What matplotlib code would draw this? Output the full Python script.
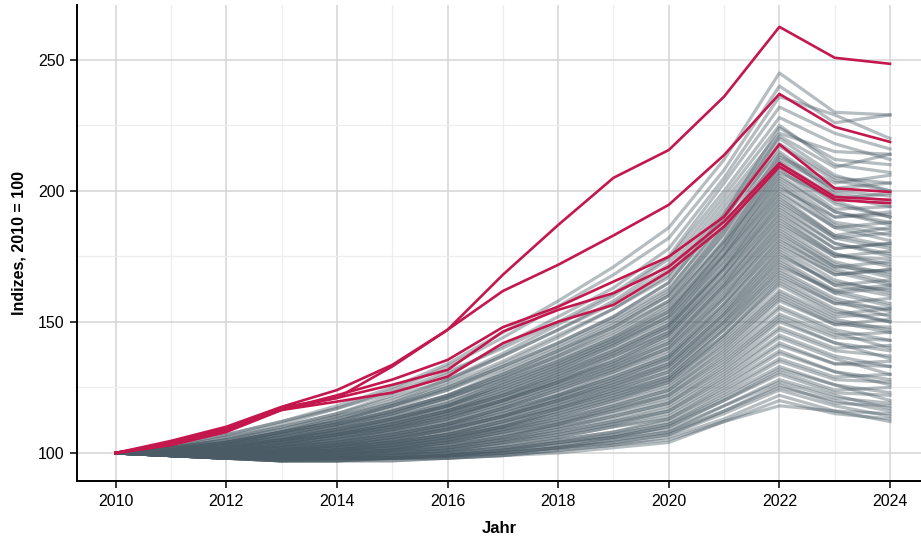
import numpy as np
import matplotlib.pyplot as plt
from matplotlib.ticker import MultipleLocator

plt.rcParams['font.family'] = ['Liberation Sans', 'DejaVu Sans']

years = list(range(2010, 2025))

# grey background series (index, 2010 = 100)
grey_series = [
    [100, 103, 107, 112, 118, 125, 134, 146, 158, 171, 186, 212, 245, 230, 229],
    [100, 102, 106, 111, 117, 124, 133, 144, 156, 168, 182, 208, 240, 226, 229],
    [100, 102, 105, 110, 115, 122, 130, 141, 152, 163, 178, 205, 236, 229, 220],
    [100, 103, 107, 112, 117, 123, 131, 140, 150, 161, 175, 203, 232, 222, 216],
    [100, 102, 105, 109, 114, 120, 128, 138, 149, 160, 174, 200, 228, 218, 212],
    [100, 101, 104, 108, 113, 119, 127, 137, 147, 158, 172, 198, 225, 210, 207],
    [100, 102, 106, 110, 115, 121, 128, 137, 147, 157, 170, 196, 222, 215, 214],
    [100, 101, 104, 108, 112, 118, 125, 134, 144, 155, 168, 194, 220, 206, 200],
    [100, 102, 105, 109, 114, 119, 126, 135, 145, 155, 167, 192, 218, 205, 203],
    [100, 101, 104, 108, 112, 117, 124, 133, 142, 152, 165, 190, 215, 200, 198],
    [100, 102, 104, 108, 112, 118, 124, 132, 141, 151, 163, 187, 213, 203, 206],
    [100, 101, 103, 107, 111, 116, 122, 130, 139, 149, 161, 185, 211, 198, 194],
    [100, 101, 104, 107, 111, 116, 122, 130, 139, 148, 160, 183, 209, 195, 190],
    [100, 101, 103, 106, 110, 115, 121, 129, 137, 147, 158, 181, 207, 197, 199],
    [100, 101, 103, 106, 110, 114, 120, 128, 136, 145, 157, 180, 205, 192, 188],
    [100, 100, 102, 105, 109, 114, 119, 127, 135, 144, 155, 178, 203, 188, 185],
    [100, 101, 103, 106, 109, 113, 118, 126, 134, 143, 154, 176, 201, 190, 192],
    [100, 100, 102, 105, 108, 113, 118, 125, 133, 142, 152, 175, 199, 186, 181],
    [100, 101, 102, 105, 108, 112, 117, 124, 132, 141, 151, 173, 197, 183, 186],
    [100, 100, 102, 104, 107, 111, 116, 123, 131, 139, 149, 171, 195, 182, 178],
    [100, 100, 101, 104, 107, 111, 116, 122, 130, 138, 148, 170, 193, 180, 176],
    [100, 100, 102, 104, 107, 110, 115, 121, 129, 137, 146, 168, 191, 178, 180],
    [100, 100, 101, 103, 106, 110, 114, 120, 128, 135, 145, 166, 189, 176, 171],
    [100, 100, 101, 103, 106, 109, 114, 120, 127, 134, 143, 164, 187, 175, 174],
    [100, 100, 101, 103, 105, 109, 113, 119, 126, 133, 142, 163, 185, 172, 167],
    [100, 100, 101, 102, 105, 108, 112, 118, 125, 132, 140, 161, 183, 171, 169],
    [100, 100, 100, 102, 104, 107, 111, 117, 124, 131, 139, 159, 181, 170, 165],
    [100, 100, 101, 102, 104, 107, 111, 116, 122, 129, 137, 157, 179, 168, 170],
    [100, 100, 100, 101, 103, 106, 110, 115, 121, 128, 136, 155, 177, 164, 160],
    [100, 100, 100, 101, 103, 106, 109, 114, 120, 127, 134, 153, 175, 165, 162],
    [100, 100, 100, 101, 103, 105, 109, 114, 120, 126, 133, 152, 173, 161, 156],
    [100, 100, 100, 101, 102, 105, 108, 113, 119, 125, 132, 150, 171, 162, 164],
    [100, 100, 100, 101, 102, 104, 107, 112, 118, 124, 131, 149, 169, 158, 152],
    [100, 100, 100, 100, 102, 104, 107, 111, 117, 123, 129, 147, 167, 157, 155],
    [100, 100, 100, 100, 101, 103, 106, 110, 116, 122, 128, 145, 165, 154, 150],
    [100, 100, 100, 100, 101, 103, 106, 110, 115, 121, 127, 143, 162, 152, 153],
    [100, 100, 99, 100, 101, 103, 105, 109, 114, 120, 126, 141, 160, 150, 146],
    [100, 100, 100, 100, 101, 102, 105, 109, 113, 118, 124, 139, 158, 149, 148],
    [100, 100, 99, 99, 100, 102, 104, 108, 112, 117, 122, 137, 155, 146, 140],
    [100, 100, 99, 99, 100, 101, 104, 107, 111, 116, 121, 135, 152, 144, 143],
    [100, 100, 99, 99, 100, 101, 103, 106, 110, 114, 119, 133, 150, 142, 136],
    [100, 99, 99, 99, 99, 101, 102, 105, 109, 113, 118, 131, 147, 139, 137],
    [100, 99, 99, 99, 99, 100, 102, 105, 108, 112, 116, 129, 144, 136, 130],
    [100, 99, 99, 98, 99, 100, 101, 104, 107, 111, 115, 127, 141, 134, 133],
    [100, 99, 98, 98, 99, 99, 101, 103, 106, 110, 113, 125, 138, 131, 126],
    [100, 99, 98, 98, 98, 99, 100, 102, 105, 108, 112, 123, 135, 128, 127],
    [100, 99, 99, 98, 98, 99, 100, 102, 104, 107, 111, 121, 132, 126, 120],
    [100, 99, 98, 98, 98, 98, 99, 101, 104, 106, 110, 120, 130, 123, 122],
    [100, 99, 98, 98, 98, 98, 99, 101, 103, 106, 109, 118, 128, 122, 117],
    [100, 99, 98, 97, 97, 98, 99, 100, 102, 105, 108, 116, 126, 119, 118],
    [100, 99, 98, 97, 97, 98, 98, 100, 102, 104, 107, 115, 124, 118, 114],
    [100, 99, 98, 97, 97, 97, 98, 99, 101, 103, 106, 113, 122, 116, 115],
    [100, 99, 98, 97, 97, 97, 98, 99, 101, 103, 105, 112, 120, 115, 113],
    [100, 99, 98, 98, 98, 98, 98, 99, 100, 102, 104, 112, 118, 116, 112],
    [100, 101, 104, 108, 113, 118, 125, 133, 142, 152, 165, 191, 224, 212, 210],
    [100, 101, 103, 107, 111, 116, 122, 131, 140, 150, 162, 189, 221, 209, 214],
    [100, 102, 104, 107, 111, 115, 121, 129, 138, 148, 160, 186, 217, 204, 200],
    [100, 101, 103, 106, 110, 115, 121, 128, 137, 146, 158, 184, 214, 199, 196],
    [100, 100, 102, 105, 109, 113, 119, 127, 135, 144, 156, 181, 212, 201, 203],
    [100, 101, 103, 105, 109, 113, 118, 126, 134, 143, 154, 179, 210, 196, 190],
    [100, 100, 102, 105, 108, 112, 118, 125, 133, 142, 153, 178, 208, 193, 194],
    [100, 101, 102, 105, 108, 112, 117, 124, 132, 141, 152, 176, 206, 192, 187],
    [100, 100, 102, 104, 107, 111, 116, 123, 131, 140, 150, 175, 204, 190, 191],
    [100, 100, 101, 104, 107, 111, 116, 122, 130, 139, 149, 173, 202, 187, 183],
    [100, 100, 102, 104, 107, 110, 115, 122, 129, 138, 148, 171, 200, 186, 188],
    [100, 100, 101, 103, 106, 110, 115, 121, 128, 137, 147, 170, 198, 183, 179],
    [100, 100, 101, 103, 106, 109, 114, 120, 127, 136, 146, 168, 196, 182, 184],
    [100, 100, 101, 103, 105, 109, 113, 120, 127, 135, 145, 167, 194, 180, 175],
    [100, 100, 101, 102, 105, 108, 113, 119, 126, 134, 144, 165, 192, 178, 180],
    [100, 100, 100, 102, 104, 108, 112, 118, 125, 133, 142, 164, 190, 176, 172],
    [100, 100, 101, 102, 104, 107, 111, 117, 124, 132, 141, 162, 188, 175, 177],
    [100, 100, 100, 102, 104, 107, 111, 117, 123, 131, 140, 160, 186, 173, 168],
    [100, 100, 100, 101, 103, 106, 110, 116, 122, 130, 138, 159, 184, 171, 173],
    [100, 100, 100, 101, 103, 106, 110, 115, 122, 129, 137, 157, 182, 169, 164],
    [100, 100, 100, 101, 103, 105, 109, 114, 121, 128, 136, 156, 180, 168, 170],
    [100, 100, 100, 101, 102, 105, 109, 114, 120, 127, 135, 154, 178, 166, 161],
    [100, 100, 100, 101, 102, 104, 108, 113, 119, 126, 134, 153, 176, 164, 166],
    [100, 100, 100, 100, 102, 104, 107, 112, 118, 125, 133, 151, 174, 162, 157],
    [100, 100, 99, 100, 101, 104, 107, 112, 117, 124, 131, 150, 172, 161, 163],
    [100, 100, 99, 100, 101, 103, 106, 111, 117, 123, 130, 148, 170, 159, 154],
    [100, 100, 99, 100, 101, 103, 106, 110, 116, 122, 129, 147, 168, 157, 159],
    [100, 100, 99, 99, 101, 102, 105, 110, 115, 121, 128, 145, 166, 155, 150],
    [100, 100, 99, 99, 100, 102, 105, 109, 114, 120, 127, 144, 164, 153, 155],
    [100, 99, 99, 99, 100, 102, 104, 108, 113, 119, 125, 142, 161, 151, 147],
    [100, 99, 99, 99, 100, 101, 104, 108, 112, 118, 124, 140, 159, 149, 151],
    [100, 99, 99, 99, 100, 101, 103, 107, 111, 117, 123, 138, 156, 147, 143],
    [100, 99, 99, 99, 99, 101, 103, 106, 111, 116, 122, 136, 153, 145, 146],
    [100, 99, 99, 98, 99, 100, 102, 106, 110, 115, 120, 134, 151, 142, 139],
    [100, 99, 98, 98, 99, 100, 102, 105, 109, 114, 119, 132, 148, 140, 141],
    [100, 99, 98, 98, 99, 100, 101, 104, 108, 112, 117, 130, 145, 137, 133],
    [100, 99, 98, 98, 98, 99, 101, 104, 107, 111, 116, 128, 142, 134, 135],
    [100, 99, 98, 98, 98, 99, 100, 103, 106, 110, 114, 126, 139, 131, 128],
    [100, 99, 98, 98, 98, 99, 100, 102, 105, 108, 113, 124, 136, 129, 130],
    [100, 99, 98, 97, 98, 98, 99, 101, 104, 107, 111, 122, 133, 126, 123],
    [100, 99, 98, 97, 98, 98, 99, 101, 103, 106, 110, 120, 131, 124, 125],
    [100, 99, 98, 97, 97, 98, 99, 100, 102, 105, 108, 118, 127, 121, 119],
    [100, 99, 98, 98, 98, 98, 99, 100, 102, 104, 107, 116, 125, 120, 116],
]

# highlighted series
red_series = [
    [100, 104.6, 110, 117.6, 124, 133.6, 147, 168, 187, 205, 215.6, 236, 262.6, 250.8, 248.5],
    [100, 104, 109.5, 116.5, 121, 133, 147, 161.8, 171.8, 183, 194.7, 213.7, 237, 224.4, 218.7],
    [100, 103.5, 109, 116.5, 122, 128, 135.5, 148, 155.8, 165.4, 174.9, 190.2, 217.8, 201, 199.6],
    [100, 103.2, 108.5, 117.4, 121, 126, 131.7, 146.3, 154.6, 161, 171.1, 188.3, 210.6, 197.7, 196.6],
    [100, 103, 108, 116.4, 119.6, 123, 129.1, 141.9, 150.1, 156.5, 169.2, 186.4, 209.3, 196.6, 195.3],
]

fig = plt.figure(figsize=(9.21, 5.39), dpi=100)
ax = fig.add_axes([0.0836, 0.1076, 0.9164, 0.8834])

for s in grey_series:
    ax.plot(years, s, color='#4a5b65', alpha=0.4, lw=2.3, zorder=2)
for s in red_series:
    ax.plot(years, s, color='#c3174d', lw=1.9, zorder=3)

ax.set_xlim(2009.3, 2024.56)
ax.set_ylim(89.3, 271)
ax.xaxis.set_major_locator(MultipleLocator(2))
ax.xaxis.set_minor_locator(MultipleLocator(1))
ax.yaxis.set_major_locator(MultipleLocator(50))
ax.yaxis.set_minor_locator(MultipleLocator(25))
ax.grid(which='major', color='#d4d4d4', lw=1.1, zorder=0)
ax.grid(which='minor', color='#eeeeee', lw=0.9, zorder=0)
ax.set_axisbelow(True)

for side in ['top', 'right']:
    ax.spines[side].set_visible(False)
for side in ['left', 'bottom']:
    ax.spines[side].set_linewidth(1.4)
    ax.spines[side].set_color('black')
ax.tick_params(which='major', direction='out', length=5, width=1.1, labelsize=11.5,
               colors='black', pad=4)
ax.tick_params(which='minor', length=0)

ax.set_xlabel('Jahr', fontsize=12, fontweight='bold', labelpad=9)
ax.set_ylabel('Indizes, 2010 = 100', fontsize=11.5, fontweight='bold', labelpad=8)

fig.savefig('out.png', dpi=100)
